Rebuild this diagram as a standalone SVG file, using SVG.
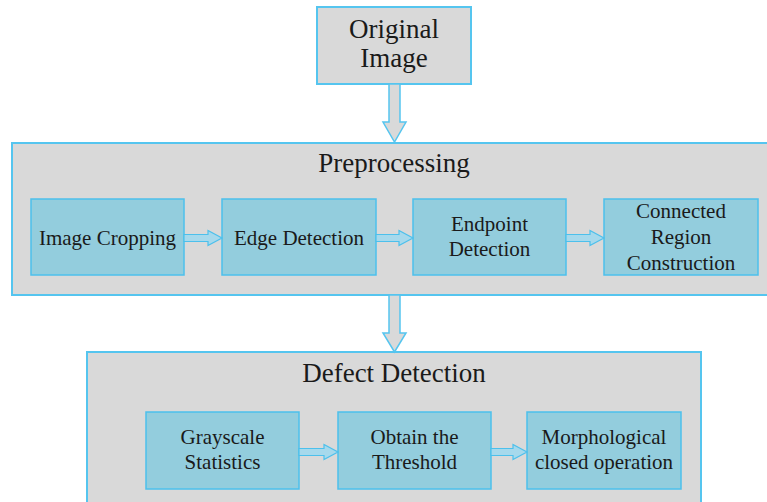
<svg xmlns="http://www.w3.org/2000/svg" width="767" height="502" viewBox="0 0 767 502">
<style>
.outer{fill:#d9d9d9;stroke:#55c5ef;stroke-width:2}
.inner{fill:#93cddd;stroke:#4cc0ec;stroke-width:1.5}
.t{font-family:'Liberation Serif','DejaVu Serif',serif;fill:#1a1a1a;text-anchor:middle}
.big{font-size:27px}
.sm{font-size:21px}
.ha{fill:#a6d9ec;stroke:#4cc0ec;stroke-width:1.2}
.va{fill:#d9d9d9;stroke:#55c5ef;stroke-width:1.5}
</style>
<rect width="767" height="502" fill="#ffffff"/>
<g id="original">
<rect class="outer" x="317" y="7" width="154" height="77"/>
<text class="t big" x="394" y="38">Original</text>
<text class="t big" x="394" y="67">Image</text>
</g>
<g id="preprocessing">
<rect class="outer" x="12" y="143" width="770" height="152"/>
<text class="t big" x="394" y="172">Preprocessing</text>
</g>
<g id="image-cropping">
<rect class="inner" x="31" y="199" width="153" height="76"/>
<text class="t sm" x="107.5" y="245">Image Cropping</text>
</g>
<g id="edge-detection">
<rect class="inner" x="222" y="199" width="154" height="76"/>
<text class="t sm" x="299" y="245">Edge Detection</text>
</g>
<g id="endpoint-detection">
<rect class="inner" x="413" y="199" width="153" height="76"/>
<text class="t sm" x="489.5" y="231">Endpoint</text>
<text class="t sm" x="489.5" y="256">Detection</text>
</g>
<g id="connected-region">
<rect class="inner" x="604" y="199" width="154" height="76"/>
<text class="t sm" x="681" y="218">Connected</text>
<text class="t sm" x="681" y="244">Region</text>
<text class="t sm" x="681" y="270">Construction</text>
</g>
<g id="defect-detection">
<rect class="outer" x="87" y="352" width="614" height="160"/>
<text class="t big" x="394" y="382">Defect Detection</text>
</g>
<g id="grayscale">
<rect class="inner" x="146" y="412" width="153" height="77"/>
<text class="t sm" x="222.5" y="444">Grayscale</text>
<text class="t sm" x="222.5" y="469">Statistics</text>
</g>
<g id="threshold">
<rect class="inner" x="338" y="412" width="153" height="77"/>
<text class="t sm" x="414.5" y="444">Obtain the</text>
<text class="t sm" x="414.5" y="469">Threshold</text>
</g>
<g id="morphological">
<rect class="inner" x="527" y="412" width="154" height="77"/>
<text class="t sm" x="604" y="444">Morphological</text>
<text class="t sm" x="604" y="469">closed operation</text>
</g>
<g id="connectors">
<path class="va" d="M389,84 L400,84 L400,122 L406,122 L394.5,142 L383,122 L389,122 Z"/>
<path class="va" d="M389,295 L400,295 L400,333 L406,333 L394.5,352 L383,333 L389,333 Z"/>
<path class="ha" d="M184,234.5 L208,234.5 L208,230.5 L222,238 L208,245.5 L208,241.5 L184,241.5 Z"/>
<path class="ha" d="M376,234.5 L399,234.5 L399,230.5 L413,238 L399,245.5 L399,241.5 L376,241.5 Z"/>
<path class="ha" d="M566,234.5 L590,234.5 L590,230.5 L604,238 L590,245.5 L590,241.5 L566,241.5 Z"/>
<path class="ha" d="M299,448.5 L324,448.5 L324,444.5 L338,452 L324,459.5 L324,455.5 L299,455.5 Z"/>
<path class="ha" d="M491,448.5 L513,448.5 L513,444.5 L527,452 L513,459.5 L513,455.5 L491,455.5 Z"/>
</g>
</svg>
